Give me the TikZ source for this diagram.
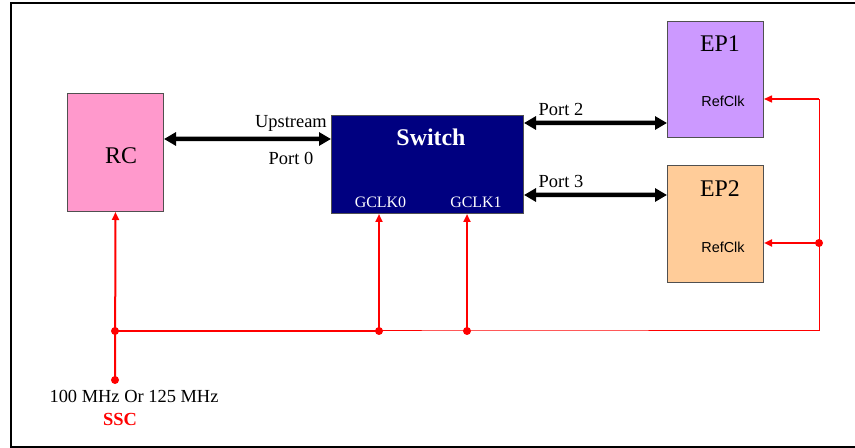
\documentclass[tikz,border=0pt]{standalone}
\usepackage{fontspec}
\setmainfont{Liberation Serif}
\newfontfamily\arialf{Liberation Sans}
\usetikzlibrary{arrows.meta}
\definecolor{rcpink}{RGB}{255,153,204}
\definecolor{swnavy}{RGB}{0,0,128}
\definecolor{eppurple}{RGB}{204,153,255}
\definecolor{eporange}{RGB}{255,204,153}
\definecolor{boxedge}{RGB}{80,80,80}
\begin{document}
\begin{tikzpicture}[x=1bp,y=-1bp,
  box/.style={draw=boxedge, line width=1bp, inner sep=0pt, anchor=north west},
  bus/.style={line width=4.5bp, black, {Triangle[length=12bp,width=13bp]}-{Triangle[length=12bp,width=13bp]}},
  clkthick/.style={draw=red, line width=2bp},
  clkthin/.style={draw=red, line width=1bp},
  clkarrow/.style={-{Triangle[length=8bp,width=7bp]}},
  dot/.style={circle, fill=red, inner sep=0pt, minimum size=8bp},
  txt/.style={inner sep=0pt, anchor=base, font=\fontsize{18.5}{20}\selectfont},
  big/.style={inner sep=0pt, anchor=base, font=\fontsize{24}{26}\selectfont},
  gclk/.style={inner sep=0pt, anchor=base, text=white, font=\fontsize{16}{18}\selectfont},
  refclk/.style={inner sep=0pt, anchor=base, font=\arialf\fontsize{14.5}{16}\selectfont}]
\useasboundingbox (0,0) rectangle (855,448);
% frame
\draw[line width=2bp] (856,3) -- (11,3) -- (11,447) -- (856,447);
% boxes
\node[box, fill=rcpink, minimum width=96bp, minimum height=118bp] (rc) at (67,93) {};
\node[big] (rct) at (121,164) {RC};
\node[box, fill=swnavy, minimum width=192bp, minimum height=98bp] (sw) at (331,115) {};
\node[big, text=white, font=\bfseries\fontsize{24}{26}\selectfont] (swt) at (431,146) {Switch};
\node[gclk] (g0t) at (380.5,208) {GCLK0};
\node[gclk] (g1t) at (476,208) {GCLK1};
\node[box, fill=eppurple, minimum width=96bp, minimum height=116bp] (ep1) at (667,21) {};
\node[big] (ep1t) at (720,52) {EP1};
\node[refclk] (rf1) at (723,107) {RefClk};
\node[box, fill=eporange, minimum width=96bp, minimum height=117bp] (ep2) at (667,165) {};
\node[big] (ep2t) at (720,197) {EP2};
\node[refclk] (rf2) at (723,253) {RefClk};
% bus arrows
\draw[bus] ([yshift=-46bp]rc.north east) -- ([yshift=-24bp]sw.north west);
\draw[bus] ([yshift=-8bp]sw.north east) -- ([yshift=-102bp]ep1.north west);
\draw[bus] ([yshift=-80bp]sw.north east) -- ([yshift=-30bp]ep2.north west);
\node[txt] (up) at (291,128) {Upstream};
\node[txt] (p0) at (291,165) {Port 0};
\node[txt] (p2) at (561,116) {Port 2};
\node[txt] (p3) at (561,188) {Port 3};
% clock tree
\node[dot] (src) at (115,380) {};
\node[dot] (j0) at (115,331) {};
\node[dot] (g0) at (379,331) {};
\node[dot] (g1) at (467,331) {};
\coordinate (corner) at (819,331);
\coordinate (top) at (819,99);
\node[dot] (r2) at (819,243) {};
\draw[clkthick, clkarrow] (src.center) -- (rc.south);
\draw[clkthick] (j0.center) -- (g0.center);
\draw[clkthin] (g0.center) -- (g1.center) -- (corner) -- (top);
\draw[clkthick, clkarrow] (g0.center) -- (g0 |- sw.south);
\draw[clkthick, clkarrow] (g1.center) -- (g1 |- sw.south);
\draw[draw=red, line width=1.5bp, clkarrow] (top) -- (top -| ep1.east);
\draw[clkthick, clkarrow] (r2.center) -- (r2 -| ep2.east);
\node[txt] (freq) at (134,402) {100 MHz Or 125 MHz};
\node[txt, text=red, font=\bfseries\fontsize{18.5}{20}\selectfont] (ssc) at (120,425) {SSC};
\end{tikzpicture}
\end{document}
